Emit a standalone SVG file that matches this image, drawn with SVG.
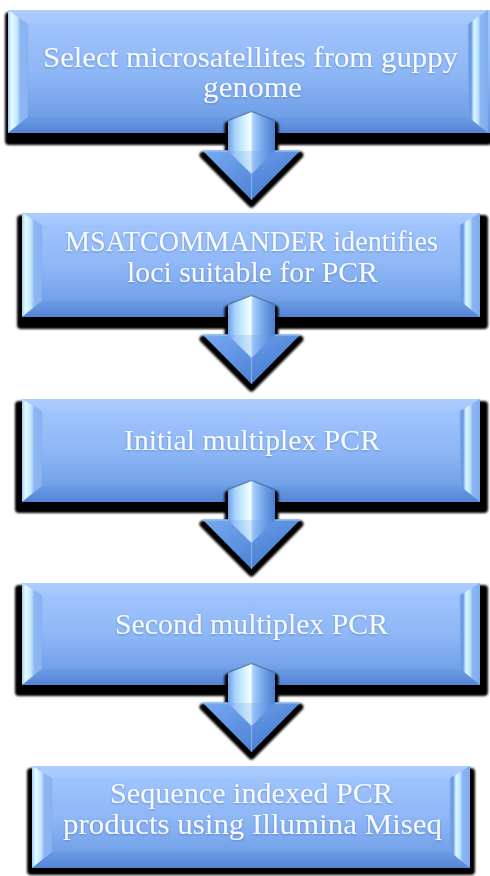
<svg xmlns="http://www.w3.org/2000/svg" width="490" height="876" viewBox="0 0 490 876">
<defs>
  <linearGradient id="faceGrad" x1="0" y1="0" x2="0" y2="1">
    <stop offset="0" stop-color="#a4c7fe"/>
    <stop offset="0.5" stop-color="#8fb7f6"/>
    <stop offset="1" stop-color="#6597e2"/>
  </linearGradient>
  <linearGradient id="topBevel" x1="0" y1="0" x2="0" y2="1">
    <stop offset="0" stop-color="#aecdfe"/>
    <stop offset="1" stop-color="#a3c6fd"/>
  </linearGradient>
  <linearGradient id="leftBevel" x1="0" y1="0" x2="1" y2="0">
    <stop offset="0" stop-color="#9fcdfb"/>
    <stop offset="0.18" stop-color="#e6fbff"/>
    <stop offset="0.45" stop-color="#c4e6ff"/>
    <stop offset="0.62" stop-color="#8cb6f1"/>
    <stop offset="1" stop-color="#8ab3f2"/>
  </linearGradient>
  <linearGradient id="rightBevel" x1="0" y1="0" x2="1" y2="0">
    <stop offset="0" stop-color="#7ba8ec"/>
    <stop offset="0.15" stop-color="#6696e2"/>
    <stop offset="0.3" stop-color="#d9f7ff"/>
    <stop offset="0.5" stop-color="#bfe4ff"/>
    <stop offset="0.62" stop-color="#8cb8f2"/>
    <stop offset="1" stop-color="#7faaee"/>
  </linearGradient>
  <linearGradient id="bottomBevel" x1="0" y1="0" x2="0" y2="1">
    <stop offset="0" stop-color="#6a9ce5"/>
    <stop offset="1" stop-color="#5485d5"/>
  </linearGradient>
  <linearGradient id="shaftGrad" x1="0" y1="0" x2="1" y2="0">
    <stop offset="0" stop-color="#6f9fe3"/>
    <stop offset="0.15" stop-color="#a7d3fb"/>
    <stop offset="0.35" stop-color="#d3f2ff"/>
    <stop offset="0.48" stop-color="#f4ffff"/>
    <stop offset="0.53" stop-color="#a9d1fb"/>
    <stop offset="0.72" stop-color="#7aa9ec"/>
    <stop offset="1" stop-color="#4a7ed2"/>
  </linearGradient>
  <linearGradient id="headGrad" x1="0" y1="0" x2="1" y2="1">
    <stop offset="0" stop-color="#76aaf2"/>
    <stop offset="0.5" stop-color="#5b8fde"/>
    <stop offset="1" stop-color="#3e72c6"/>
  </linearGradient>
  <filter id="blur" x="-10%" y="-10%" width="120%" height="130%">
    <feGaussianBlur stdDeviation="1.2"/>
  </filter>
  <filter id="txtShadow" x="-5%" y="-20%" width="110%" height="150%">
    <feDropShadow dx="0" dy="1" stdDeviation="1.2" flood-color="#2a5aa0" flood-opacity="0.45"/>
  </filter>
  <path id="arrowShape" d="M251.5,0 L275,9 L275,39 L300,39 L251.5,88 L203,39 L228,39 L228,9 Z"/>
</defs>
<style>
  .shadow { fill: #000; filter: url(#blur); }
  .face { fill: url(#faceGrad); }
  .bt { fill: url(#topBevel); }
  .bl { fill: url(#leftBevel); }
  .br { fill: url(#rightBevel); }
  .bb { fill: url(#bottomBevel); }
  .edge { fill: none; stroke: #6f9be0; stroke-width: 0.6; opacity: 0.3; }
  .label { font-family: "Liberation Serif", "Times New Roman", serif; font-size: 30px; fill: #f7faff; filter: url(#txtShadow); }
  .ashadow { fill: #000; stroke: #000; stroke-width: 7; stroke-linejoin: round; filter: url(#blur); }
  .shaft { fill: url(#shaftGrad); }
  .head { fill: url(#headGrad); }
  .ridge { stroke: #a4cdfa; stroke-width: 1; opacity: 0.6; fill: none; }
  .hedge { stroke: #8ebcf6; stroke-width: 1.5; fill: none; }
</style>

<g id="box1">
  <rect class="shadow" x="5" y="12" width="487" height="133" rx="4"/>
  <rect class="face" x="8" y="10" width="482" height="123"/>
  <polygon class="bt" points="8,10 490,10 470,24 28,24"/>
  <polygon class="bl" points="8,10 28,24 28,117 8,133"/>
  <polygon class="br" points="468,24 488,10 488,133 468,117"/>
  <polygon class="bb" points="8,133 28,117 468,117 488,133"/>
  <polyline class="edge" points="28,24 28,117 468,117 468,24"/>
  <text class="label" x="43" y="67" textLength="415" lengthAdjust="spacingAndGlyphs">Select microsatellites from guppy</text>
  <text class="label" x="203" y="97" textLength="99" lengthAdjust="spacingAndGlyphs">genome</text>
</g>

<g id="box2">
  <rect class="shadow" x="17" y="215" width="471" height="114" rx="4"/>
  <rect class="face" x="22" y="213" width="458" height="104"/>
  <polygon class="bt" points="22,213 480,213 460,225 42,225"/>
  <polygon class="bl" points="22,213 42,225 42,301 22,317"/>
  <polygon class="br" points="460,225 480,213 480,317 460,301"/>
  <polygon class="bb" points="22,317 42,301 460,301 480,317"/>
  <polyline class="edge" points="42,225 42,301 460,301 460,225"/>
  <text class="label" x="65" y="251" textLength="373" lengthAdjust="spacingAndGlyphs">MSATCOMMANDER identifies</text>
  <text class="label" x="127" y="282" textLength="251" lengthAdjust="spacingAndGlyphs">loci suitable for PCR</text>
</g>

<g id="box3">
  <rect class="shadow" x="15" y="401" width="473" height="112" rx="4"/>
  <rect class="face" x="22" y="399" width="458" height="103"/>
  <polygon class="bt" points="22,399 480,399 460,411 42,411"/>
  <polygon class="bl" points="22,399 42,411 42,486 22,502"/>
  <polygon class="br" points="460,411 480,399 480,502 460,486"/>
  <polygon class="bb" points="22,502 42,486 460,486 480,502"/>
  <polyline class="edge" points="42,411 42,486 460,486 460,411"/>
  <text class="label" x="124" y="450" textLength="256" lengthAdjust="spacingAndGlyphs">Initial multiplex PCR</text>
</g>

<g id="box4">
  <rect class="shadow" x="15" y="585" width="473" height="111" rx="4"/>
  <rect class="face" x="22" y="583" width="458" height="102"/>
  <polygon class="bt" points="22,583 480,583 460,595 42,595"/>
  <polygon class="bl" points="22,583 42,595 42,669 22,685"/>
  <polygon class="br" points="460,595 480,583 480,685 460,669"/>
  <polygon class="bb" points="22,685 42,669 460,669 480,685"/>
  <polyline class="edge" points="42,595 42,669 460,669 460,595"/>
  <text class="label" x="115" y="634" textLength="273" lengthAdjust="spacingAndGlyphs">Second multiplex PCR</text>
</g>

<g id="box5">
  <rect class="shadow" x="27" y="768" width="448" height="107" rx="4"/>
  <rect class="face" x="32" y="766" width="438" height="102"/>
  <polygon class="bt" points="32,766 470,766 450,778 52,778"/>
  <polygon class="bl" points="32,766 52,778 52,852 32,868"/>
  <polygon class="br" points="450,778 470,766 470,868 450,852"/>
  <polygon class="bb" points="32,868 52,852 450,852 470,868"/>
  <polyline class="edge" points="52,778 52,852 450,852 450,778"/>
  <text class="label" x="110" y="803" textLength="283" lengthAdjust="spacingAndGlyphs">Sequence indexed PCR</text>
  <text class="label" x="63" y="834" textLength="379" lengthAdjust="spacingAndGlyphs">products using Illumina Miseq</text>
</g>

<g id="connectors">
  <g id="arrow1" transform="translate(0,112)">
    <use href="#arrowShape" class="ashadow" transform="translate(0,4)"/>
    <polygon class="head" points="203,39 300,39 251.5,88"/>
    <polygon class="shaft" points="251.5,0 275,9 275,39 228,39 228,9"/>
    <polygon class="shaft" opacity="0.75" points="228,39 275,39 251.5,62"/>
    <line class="ridge" x1="251.5" y1="62" x2="251.5" y2="88"/>
    <polyline class="hedge" points="203,39 228,39"/>
    <polyline class="hedge" points="275,39 300,39"/>
  </g>
  <g id="arrow2" transform="translate(0,296)">
    <use href="#arrowShape" class="ashadow" transform="translate(0,4)"/>
    <polygon class="head" points="203,39 300,39 251.5,88"/>
    <polygon class="shaft" points="251.5,0 275,9 275,39 228,39 228,9"/>
    <polygon class="shaft" opacity="0.75" points="228,39 275,39 251.5,62"/>
    <line class="ridge" x1="251.5" y1="62" x2="251.5" y2="88"/>
    <polyline class="hedge" points="203,39 228,39"/>
    <polyline class="hedge" points="275,39 300,39"/>
  </g>
  <g id="arrow3" transform="translate(0,481)">
    <use href="#arrowShape" class="ashadow" transform="translate(0,4)"/>
    <polygon class="head" points="203,39 300,39 251.5,88"/>
    <polygon class="shaft" points="251.5,0 275,9 275,39 228,39 228,9"/>
    <polygon class="shaft" opacity="0.75" points="228,39 275,39 251.5,62"/>
    <line class="ridge" x1="251.5" y1="62" x2="251.5" y2="88"/>
    <polyline class="hedge" points="203,39 228,39"/>
    <polyline class="hedge" points="275,39 300,39"/>
  </g>
  <g id="arrow4" transform="translate(0,664)">
    <use href="#arrowShape" class="ashadow" transform="translate(0,4)"/>
    <polygon class="head" points="203,39 300,39 251.5,88"/>
    <polygon class="shaft" points="251.5,0 275,9 275,39 228,39 228,9"/>
    <polygon class="shaft" opacity="0.75" points="228,39 275,39 251.5,62"/>
    <line class="ridge" x1="251.5" y1="62" x2="251.5" y2="88"/>
    <polyline class="hedge" points="203,39 228,39"/>
    <polyline class="hedge" points="275,39 300,39"/>
  </g>
</g>
</svg>
